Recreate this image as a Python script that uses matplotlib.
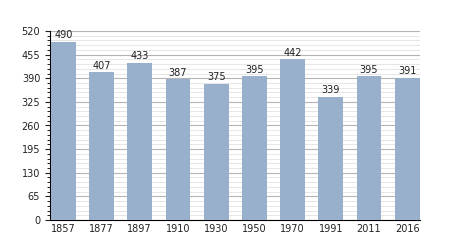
import matplotlib
matplotlib.use("Agg")
import matplotlib.pyplot as plt
from matplotlib.ticker import MultipleLocator

years = ["1857", "1877", "1897", "1910", "1930", "1950", "1970", "1991", "2011", "2016"]
population = [490, 407, 433, 387, 375, 395, 442, 339, 395, 391]
yticks = [0, 65, 130, 195, 260, 325, 390, 455, 520]

fig = plt.figure(figsize=(4.5, 2.5), dpi=100)
ax = fig.add_axes([0.111, 0.12, 0.822, 0.756])

x = list(range(len(years)))
ax.bar(x, population, width=0.65, color="#98b0cb", zorder=3)
for xi, v in zip(x, population):
    ax.text(xi, v + 4, str(v), ha="center", va="bottom", fontsize=7, color="#222222", zorder=4)

ax.set_xlim(-0.35, 9.33)
ax.set_ylim(0, 520)
ax.set_yticks(yticks)
ax.yaxis.set_minor_locator(MultipleLocator(13))
ax.set_xticks(x)
ax.set_xticklabels(years)
ax.grid(axis="y", which="major", color="#b4b4b4", linewidth=0.8, zorder=1)
ax.grid(axis="y", which="minor", color="#e2e2e2", linewidth=0.6, zorder=1)
ax.tick_params(axis="both", labelsize=7, colors="#222222", length=3.5, width=0.8)
ax.tick_params(axis="y", which="minor", length=2, width=0.6)
ax.tick_params(axis="x", length=0, pad=3)
for s in ["top", "right"]:
    ax.spines[s].set_visible(False)
ax.spines["left"].set_linewidth(0.8)
ax.spines["bottom"].set_linewidth(0.8)

fig.savefig("out.png", dpi=100)
